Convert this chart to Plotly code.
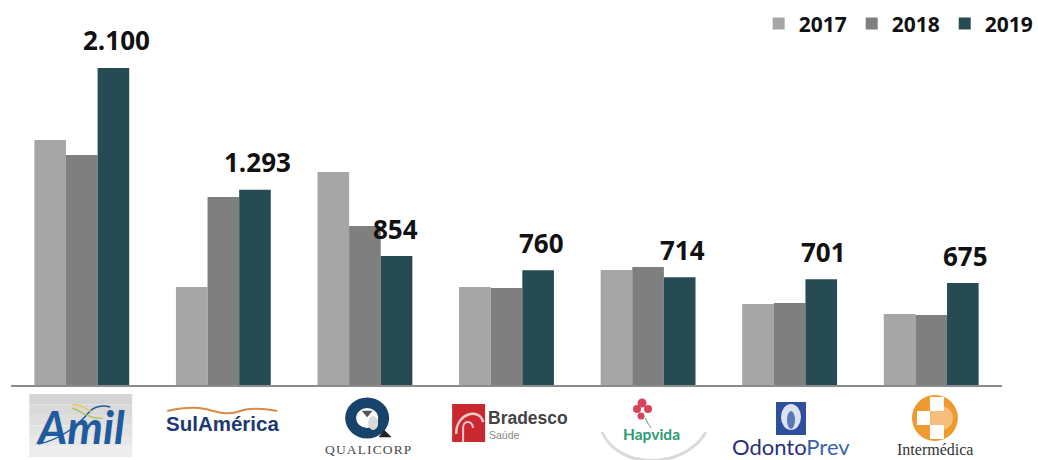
import plotly.graph_objects as go

W, H = 1038, 460
L, R, T, B = 10.7, 35.9, 0, 75

companies = ["Amil", "SulAmérica", "Qualicorp", "Bradesco Saúde", "Hapvida", "OdontoPrev", "Intermédica"]
v2017 = [1623, 649, 1411, 649, 762, 537, 470]
v2018 = [1524, 1245, 1053, 643, 782, 543, 464]
v2019 = [2100, 1293, 854, 760, 714, 701, 675]
labels2019 = ["2.100", "1.293", "854", "760", "714", "701", "675"]
label_shift = [3, 3, -1, 3, 3, 2, 3]
Y_MAX = 2550

C17, C18, C19 = "#A6A6A6", "#7F7F7F", "#264B53"
FONT = "Open Sans"

pw, ph = W - L - R, H - T - B


def fx(px):
    return (px - L) / pw


def fy(py):
    return 1 - (py - T) / ph


def P(d):
    """Path given in pixel pairs; converted to paper coordinates."""
    out = []
    for tok in d.split():
        if "," in tok:
            a, b = tok.split(",")
            out.append(f"{fx(float(a)):.5f},{fy(float(b)):.5f}")
        else:
            out.append(tok)
    return " ".join(out)


shapes, anns = [], []


def rect(x0, y0, x1, y1, color):
    shapes.append(dict(type="rect", xref="paper", yref="paper", x0=fx(x0), x1=fx(x1),
                       y0=fy(y1), y1=fy(y0), fillcolor=color, line_width=0, layer="above"))


def oval(cx, cy, rx, ry, color):
    shapes.append(dict(type="circle", xref="paper", yref="paper", x0=fx(cx - rx), x1=fx(cx + rx),
                       y0=fy(cy + ry), y1=fy(cy - ry), fillcolor=color, line_width=0, layer="above"))


def curve(d, color, width=2, fill=None):
    shapes.append(dict(type="path", xref="paper", yref="paper", path=P(d), layer="above",
                       line=dict(color=color, width=width), fillcolor=fill or "rgba(0,0,0,0)"))


def txt(x, y, s, size, color, family=FONT, anchor="center"):
    anns.append(dict(xref="paper", yref="paper", x=fx(x), y=fy(y), text=s, showarrow=False,
                     xanchor=anchor, yanchor="middle", align="center", borderpad=0,
                     font=dict(size=size, color=color, family=family)))


# Data labels over the 2019 bars
for c, v, s, dx in zip(companies, v2019, labels2019, label_shift):
    anns.append(dict(x=c, y=v, xref="x", yref="y", text=f"<b>{s}</b>", showarrow=False,
                     xshift=31.5 + dx, yshift=27.5, xanchor="center", yanchor="middle",
                     font=dict(size=26, color="#111111", family=FONT)))

# Amil
for i, col in enumerate(["#D4D4D4", "#D9D9D9", "#DEDEDE", "#E3E3E3", "#E8E8E8", "#EDEDED"]):
    rect(29, 394 + i * 10.5, 132, 394 + (i + 1) * 10.5, col)
txt(80, 427, "<b><i>Amil</i></b>", 45, "#1F5C9E", "Lato")
curve("M 38,444 C 60,440 78,425 88,413 C 94,406 102,405 110,407", "#1F5C9E", 1.5)
curve("M 72,408 C 82,412 92,420 102,418", "#A9C85A", 1.5)
curve("M 72,405 C 80,403 86,410 92,412", "#E8C95A", 1.5)

# SulAmérica
txt(222, 424, "<b>SulAmérica</b>", 20.5, "#1C3A70", "Liberation Sans")
curve("M 167,411 C 180,408 192,406 205,409 C 218,412 228,416 240,411 C 252,407 266,409 277,411",
      "#D98A45", 2)

# Qualicorp
oval(367, 418, 22, 20.5, "#17436B")
oval(367, 418, 11, 10, "#FFFFFF")
oval(373, 423, 5, 7, "#D9D9D9")
curve("M 362,411 L 372,411 L 367,417 Z", "#555555", 0.5, "#555555")
curve("M 379,437 L 384,430 L 391,437 Z", "#222222", 0.5, "#222222")
txt(368, 449, "Q\u200aU\u200aA\u200aL\u200aI\u200aC\u200aO\u200aR\u200aP", 13.5, "#4A4A4A", "Liberation Serif")

# Bradesco
rect(452, 404, 485, 442, "#C9282E")
curve("M 456,434 C 456,412 480,408 483,422", "#F4C9C9", 2.5)
curve("M 463,442 L 463,428 C 463,420 472,420 473,428", "#F4C9C9", 2)
txt(487, 418, "<b>Bradesco</b>", 17.5, "#444444", "Liberation Sans", "left")
txt(488, 435, "Saúde", 10.5, "#888888", "Liberation Sans", "left")

# Hapvida
curve("M 602,432 C 618,470 684,470 706,432", "#DADADA", 3)
curve("M 645,418 C 648,424 650,426 651,428", "#5E8F6A", 1)
oval(642, 403, 4.5, 4.5, "#D9435A")
oval(637, 409, 4, 4, "#D9435A")
oval(648, 409, 4, 4, "#D9435A")
oval(641, 416, 3.5, 3.5, "#D9435A")
txt(651, 434, "<b>Hapvida</b>", 15.5, "#2E9A72", "Lato")

# OdontoPrev
rect(776, 402, 806, 435, "#2D4F9E")
oval(791, 417, 10, 13, "#DDE3EE")
oval(791, 420, 4, 9, "#5A7AB5")
txt(791, 446, '<span style="color:#28307A">Odonto</span><span style="color:#3D5FB0">Prev</span>',
    22, "#28307A", "Lato")

# Intermédica
oval(935, 418, 23, 23, "#EE9A2E")
oval(941, 418, 12, 12, "#F6BE7C")
rect(930, 397, 944, 411, "#FFFFFF")
rect(917, 411, 930, 425, "#FFFFFF")
rect(930, 425, 944, 439, "#FFFFFF")
txt(935, 449.5, "Intermédica", 16, "#333333", "Liberation Serif")

fig = go.Figure()
for name, vals, col in [("2017", v2017, C17), ("2018", v2018, C18), ("2019", v2019, C19)]:
    fig.add_bar(name=name, x=companies, y=vals, marker_color=col, marker_line_width=0)

fig.update_layout(
    width=W, height=H, barmode="group", bargap=0.33, bargroupgap=0,
    paper_bgcolor="white", plot_bgcolor="white",
    margin=dict(l=L, r=R, t=T, b=B, autoexpand=False),
    font=dict(family=FONT, color="#111111"),
    showlegend=True,
    legend=dict(orientation="h", x=1.037, xanchor="right", y=0.991, yanchor="top",
                font=dict(size=21, family=FONT, color="#111111", weight="bold"),
                traceorder="normal", bgcolor="rgba(0,0,0,0)"),
    shapes=shapes, annotations=anns,
    xaxis=dict(showticklabels=False, ticks="", showgrid=False, showline=True,
               linecolor="#8C8C8C", linewidth=1.5, zeroline=False,
               categoryorder="array", categoryarray=companies),
    yaxis=dict(visible=False, range=[0, Y_MAX]),
)
fig.write_html("out.html", post_script="document.body.style.margin='0';",
               config={"displayModeBar": False})
